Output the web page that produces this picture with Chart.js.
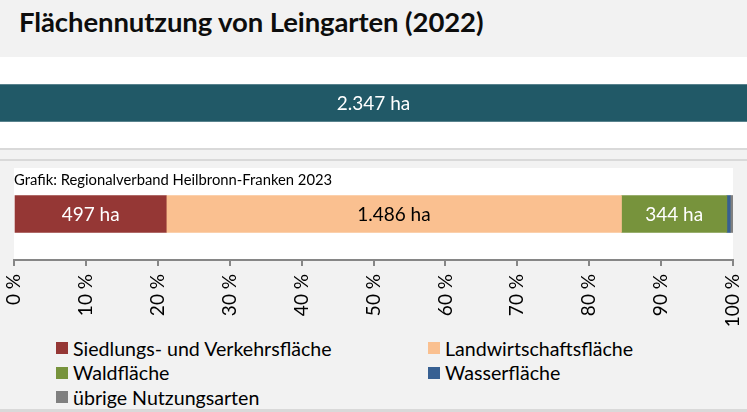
<!DOCTYPE html>
<html lang="de">
<head>
<meta charset="utf-8">
<script src="https://cdn.jsdelivr.net/npm/chart.js@4/dist/chart.umd.min.js"></script>
<style>
  html, body { margin: 0; padding: 0; }
  body { width: 747px; height: 412px; background: #f2f2f2; position: relative; overflow: hidden; font-family: Lato, "Open Sans", sans-serif; color: #0d0d0d; }
  .abs { position: absolute; }
  #title { left: 19px; top: 5px; font-size: 27.5px; font-weight: 700; letter-spacing: -0.1px; }
  #band { left: 0; top: 57px; width: 747px; height: 91px; background: #fff; }
  .rule { left: 0; width: 747px; background: #d9d9d9; }
  #panel { left: 14px; top: 168px; width: 719px; height: 92px; background: #fff; }
  #source { left: 14px; top: 170px; font-size: 14.8px; color: #000; }
  #totalWrap { left: 0; top: 57px; width: 747px; height: 91px; }
  #mainWrap { left: 0; top: 168px; width: 747px; height: 162px; }
  #legend { left: 56px; top: 337px; width: 680px; display: grid; grid-template-columns: 372px 300px; row-gap: 2px; }
  .item { display: flex; align-items: center; font-size: 19.6px; color: #000; height: 22.5px; white-space: nowrap; }
  .sw { width: 12px; height: 12px; margin-right: 5px; flex: none; }
</style>
</head>
<body>
<div id="title" class="abs">Flächennutzung von Leingarten (2022)</div>
<div id="band" class="abs"></div>
<div id="totalWrap" class="abs"><canvas id="totalChart"></canvas></div>
<div class="abs rule" style="top:148px;height:2px"></div>
<div class="abs rule" style="top:159px;height:2px"></div>
<div id="panel" class="abs"></div>
<div id="mainWrap" class="abs"><canvas id="mainChart"></canvas></div>
<div id="source" class="abs">Grafik: Regionalverband Heilbronn-Franken 2023</div>
<div id="legend" class="abs"></div>
<div class="abs rule" style="top:409px;height:3px"></div>

<script>
// Land use categories and their areas in hectares (2022)
const categories = [
  'Siedlungs- und Verkehrsfläche',
  'Landwirtschaftsfläche',
  'Waldfläche',
  'Wasserfläche',
  'übrige Nutzungsarten'
];
const areaHa = [497, 1486, 344, 11, 9];
const colors = ['#953735', '#fac090', '#77933c', '#376092', '#808080'];
const labelColors = ['#ffffff', '#000000', '#ffffff', '#ffffff', '#ffffff'];
const percentTicks = [0, 10, 20, 30, 40, 50, 60, 70, 80, 90, 100];

const totalHa = areaHa.reduce((a, b) => a + b, 0);

// German number format with "." as thousands separator
function fmt(n) {
  return String(Math.round(n)).replace(/\B(?=(\d{3})+(?!\d))/g, '.');
}

const FONT = 'Lato, "Open Sans", sans-serif';

// Writes "<value> ha" centred on each bar segment wide enough to hold it
function segmentLabels(valuesOf, colorOf, size) {
  return {
    id: 'segmentLabels',
    afterDatasetsDraw(chart) {
      const ctx = chart.ctx;
      ctx.save();
      ctx.font = size + 'px ' + FONT;
      ctx.textAlign = 'center';
      ctx.textBaseline = 'middle';
      chart.data.datasets.forEach((ds, i) => {
        const meta = chart.getDatasetMeta(i);
        meta.data.forEach((bar) => {
          const w = Math.abs(bar.x - bar.base);
          if (w < 45) return;
          ctx.fillStyle = colorOf(i);
          ctx.fillText(fmt(valuesOf(i)) + ' ha', (bar.x + bar.base) / 2, bar.y + 1);
        });
      });
      ctx.restore();
    }
  };
}

// Total area bar across the full width
new Chart(document.getElementById('totalChart'), {
  type: 'bar',
  data: {
    labels: ['Gesamt'],
    datasets: [{ data: [totalHa], backgroundColor: '#215967', barThickness: 37, borderWidth: 0 }]
  },
  options: {
    indexAxis: 'y',
    responsive: true,
    maintainAspectRatio: false,
    animation: false,
    layout: { padding: { top: 1, bottom: 0, left: 0, right: 0 } },
    plugins: { legend: { display: false }, tooltip: { enabled: false } },
    scales: {
      x: { display: false, min: 0, max: totalHa },
      y: { display: false }
    }
  },
  plugins: [segmentLabels(() => totalHa, () => '#ffffff', 19)]
});

// Stacked shares of the land use categories
new Chart(document.getElementById('mainChart'), {
  type: 'bar',
  data: {
    labels: ['Leingarten'],
    datasets: categories.map((c, i) => ({
      label: c,
      data: [areaHa[i] / totalHa * 100],
      backgroundColor: colors[i],
      borderWidth: 0,
      barThickness: 37
    }))
  },
  options: {
    indexAxis: 'y',
    responsive: true,
    maintainAspectRatio: false,
    animation: false,
    layout: { padding: { top: 0, bottom: 0, left: 14, right: 14 } },
    plugins: { legend: { display: false }, tooltip: { enabled: false } },
    scales: {
      x: {
        stacked: true,
        min: 0,
        max: 100,
        afterBuildTicks: (scale) => { scale.ticks = percentTicks.map(v => ({ value: v })); },
        afterFit: (scale) => { scale.height = 70; scale.paddingLeft = 0; scale.paddingRight = 0; },
        grid: { display: true, drawOnChartArea: false, drawTicks: true, tickLength: 6, color: '#868686', tickColor: '#868686', lineWidth: 2, tickWidth: 2 },
        border: { display: true, color: '#868686', width: 2 },
        ticks: {
          minRotation: 90,
          maxRotation: 90,
          padding: 8,
          color: '#000000',
          font: { family: FONT, size: 19 },
          callback: (v) => v + ' %'
        }
      },
      y: { stacked: true, display: false }
    }
  },
  plugins: [segmentLabels((i) => areaHa[i], (i) => labelColors[i], 19)]
});

// Legend in two columns
const legend = document.getElementById('legend');
categories.forEach((c, i) => {
  const item = document.createElement('div');
  item.className = 'item';
  const sw = document.createElement('span');
  sw.className = 'sw';
  sw.style.background = colors[i];
  const tx = document.createElement('span');
  tx.textContent = c;
  item.appendChild(sw);
  item.appendChild(tx);
  legend.appendChild(item);
});
</script>
</body>
</html>
